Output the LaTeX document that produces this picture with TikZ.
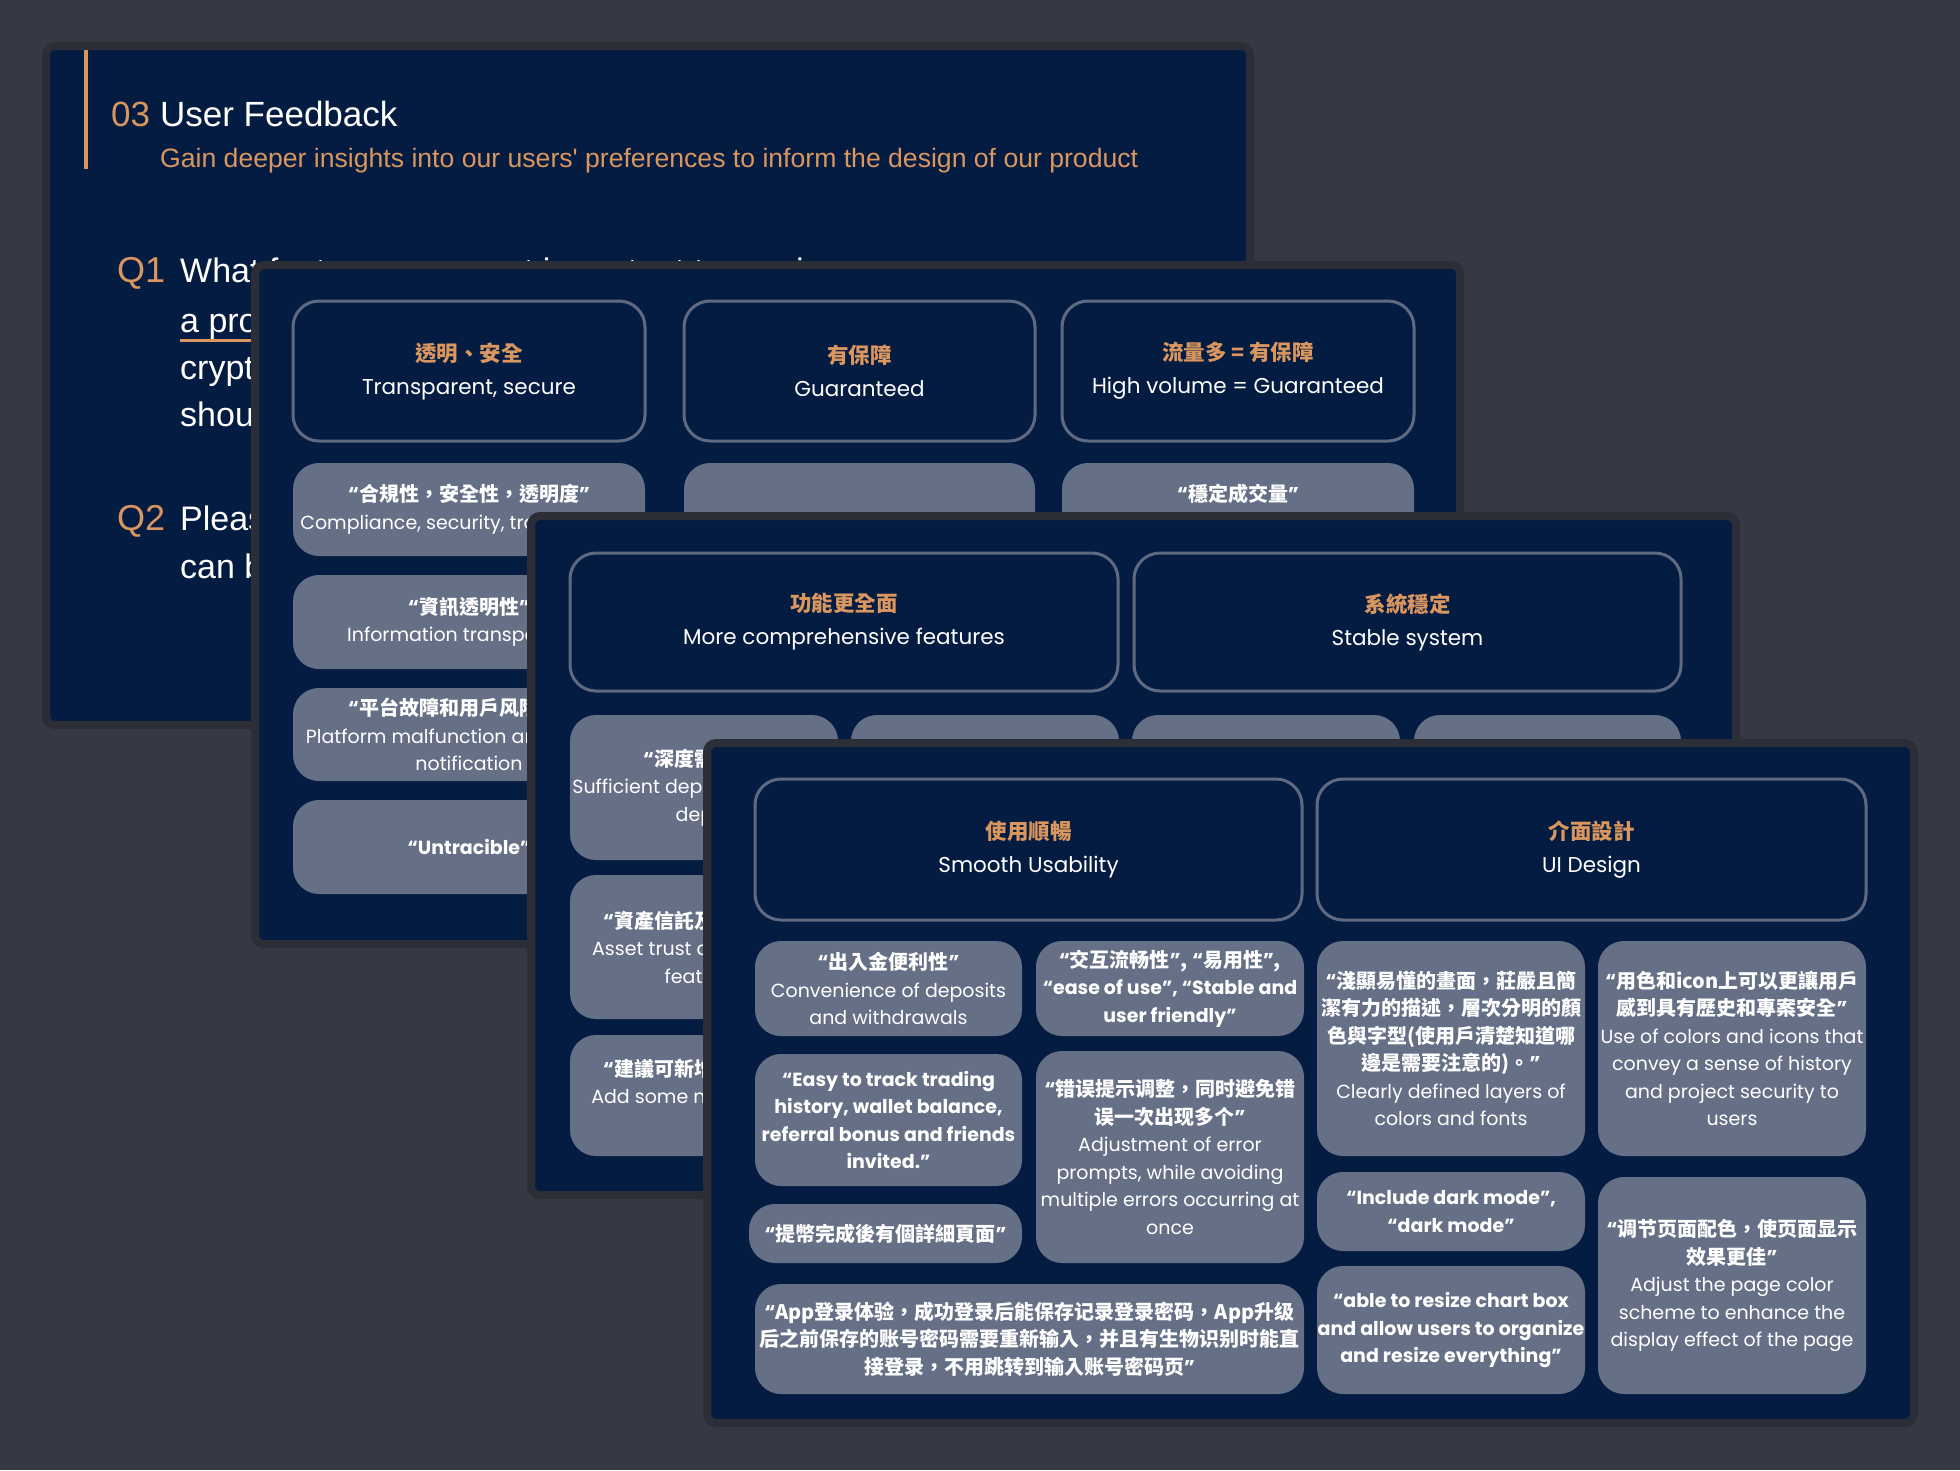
\documentclass[tikz,border=0pt]{standalone}
\usepackage{fontspec}
\setmainfont{Poppins}
\newfontfamily\cjk{Noto Sans CJK TC}
\newfontfamily\deck{Liberation Sans}

\definecolor{page}{HTML}{363943}
\definecolor{rim}{HTML}{2B2E36}
\definecolor{navy}{HTML}{041C41}
\definecolor{chip}{HTML}{657087}
\definecolor{frame}{HTML}{5F6A82}
\definecolor{accent}{HTML}{D9965F}

\newcommand\zh[1]{{\cjk\bfseries\fontsize{20}{27.5}\selectfont #1}}
\newcommand\hd[1]{{\cjk\bfseries\color{accent}#1}}
\newcommand\oq{{\normalfont\bfseries“}}
\newcommand\cq{{\normalfont\bfseries”}}

\tikzset{
  card/.style={draw=rim, line width=8, fill=navy, rounded corners=9},
  hbox/.style={draw=frame, line width=3, fill=navy, rounded corners=26, inner sep=0,
    align=center, text=white, font=\fontsize{21.5}{33}\selectfont},
  qbox/.style={fill=chip, rounded corners=26, inner sep=0, align=center, text=white,
    font=\fontsize{19}{27.5}\selectfont},
  qtext/.style={inner sep=0, align=center, text=white, font=\fontsize{19}{27.5}\selectfont},
  qline/.style={anchor=west, inner sep=0, text=white, text height=24, text depth=0,
    font=\deck\fontsize{34}{40}\selectfont},
  qlab/.style={qline, text=accent, font=\deck\fontsize{36}{40}\selectfont}
}

\begin{document}
\begin{tikzpicture}[x=1pt, y=-1pt]
  \fill[page] (0,0) rectangle (1960,1470);
  \useasboundingbox (0,0) rectangle (1960,1470);

  % slide 1
  \node[card, minimum width=1204, minimum height=679] (card1) at (648,385.5) {};
  \draw[accent, line width=3.5] (86,50) -- (86,169);
  \node[qline, font=\deck\fontsize{35}{40}\selectfont] (title) at (111,114)
       {\textcolor{accent}{03}\hspace{10pt}User Feedback};
  \node[anchor=west, inner sep=0, text=accent, text height=19, text depth=0,
        font=\deck\fontsize{26.6}{30}\selectfont] (sub) at (160,158)
       {Gain deeper insights into our users' preferences to inform the design of our product};

  \node[qlab] (q1) at (117,270) {Q1};
  \node[qline] (l11) at (180,270) {What features are most important to you in};
  \node[qline] (l12) at (180,320) {a product};
  \node[qline] (l13) at (180,367) {crypto};
  \node[qline] (l14) at (180,414) {should};
  \draw[accent, line width=3] (180,340) -- (330,340);

  \node[qlab] (q2) at (117,518) {Q2};
  \node[qline] (l21) at (180,518) {Please};
  \node[qline] (l22) at (180,566) {can be};

  % slide 2
  \node[card, minimum width=1205, minimum height=679] (card2) at (857.5,604.5) {};
  \node[hbox, minimum width=352, minimum height=140] (h21) at (469,371)
       {\hd{透明、安全}\\Transparent, secure};
  \node[hbox, minimum width=351, minimum height=140] (h22) at (859.5,371)
       {\hd{有保障}\\Guaranteed};
  \node[hbox, minimum width=352, minimum height=140] (h23) at (1238,371)
       {\hd{流量多 = 有保障}\\High volume = Guaranteed};

  \node[qbox, minimum width=352, minimum height=93] (q211) at (469,509.5)
       {\zh{\oq 合規性，安全性，透明度\cq}\\Compliance, security, transparency};
  \node[qbox, minimum width=352, minimum height=94] (q212) at (469,622)
       {\zh{\oq 資訊透明性\cq}\\Information transparency};
  \node[qbox, minimum width=352, minimum height=93] (q213) at (469,734.5)
       {\zh{\oq 平台故障和用戶风险通知\cq}\\Platform malfunction and user risk\\notification};
  \node[qbox, minimum width=352, minimum height=94] (q214) at (469,847)
       {\bfseries “Untracible”};
  \node[qbox, minimum width=351, minimum height=93] (q221) at (859.5,509.5) {};
  \node[qbox, minimum width=352, minimum height=93] (q231) at (1238,509.5)
       {\zh{\oq 穩定成交量\cq}\\Stable trading volume};

  % slide 3
  \node[card, minimum width=1205, minimum height=679] (card3) at (1133.5,855.5) {};
  \node[hbox, minimum width=548, minimum height=138] (h31) at (844,622)
       {\hd{功能更全面}\\More comprehensive features};
  \node[hbox, minimum width=547, minimum height=138] (h32) at (1407.5,622)
       {\hd{系統穩定}\\Stable system};

  \node[qbox, minimum width=268, minimum height=145] (q311) at (704,787.5)
       {\zh{\oq 深度需足夠\cq}\\Sufficient deposit and trade\\depth};
  \node[qbox, minimum width=268, minimum height=144] (q312) at (704,947)
       {\zh{\oq 資產信託及託管功能\cq}\\Asset trust and custody\\features};
  \node[qbox, minimum width=268, minimum height=121] (q313) at (704,1095.5) {};
  \node[qtext] (t313) at (704,1081.5)
       {\zh{\oq 建議可新增更多功能\cq}\\Add some new features};
  \node[qbox, minimum width=268, minimum height=145] (q321) at (985,787.5) {};
  \node[qbox, minimum width=268, minimum height=145] (q331) at (1266,787.5) {};
  \node[qbox, minimum width=267, minimum height=145] (q341) at (1547.5,787.5) {};

  % slide 4
  \node[card, minimum width=1207, minimum height=680] (card4) at (1310.5,1083) {};
  \node[hbox, minimum width=547, minimum height=141] (h41) at (1028.5,849.5)
       {\hd{使用順暢}\\Smooth Usability};
  \node[hbox, minimum width=549, minimum height=141] (h42) at (1591.5,849.5)
       {\hd{介面設計}\\UI Design};

  \node[qbox, minimum width=267, minimum height=95] (q411) at (888.5,988.5)
       {\zh{\oq 出入金便利性\cq}\\Convenience of deposits\\and withdrawals};
  \node[qbox, minimum width=267, minimum height=132, font=\bfseries\fontsize{19}{27.5}\selectfont]
       (q412) at (888.5,1120)
       {“Easy to track trading\\history, wallet balance,\\referral bonus and friends\\invited.”};
  \node[qbox, minimum width=273, minimum height=59] (q413) at (885.5,1233.5)
       {\zh{\oq 提幣完成後有個詳細頁面\cq}};
  \node[qbox, minimum width=549, minimum height=110] (q414) at (1029.5,1339)
       {\zh{\oq App登录体验，成功登录后能保存记录登录密码，App升级}\\
        \zh{后之前保存的账号密码需要重新输入，并且有生物识别时能直}\\
        \zh{接登录，不用跳转到输入账号密码页\cq}};

  \node[qbox, minimum width=268, minimum height=95] (q421) at (1170,988.5)
       {\zh{\oq 交互流畅性\cq, \oq 易用性\cq,}\\{\bfseries “ease of use”, “Stable and}\\{\bfseries user friendly”}};
  \node[qbox, minimum width=268, minimum height=212] (q422) at (1170,1157)
       {\zh{\oq 错误提示调整，同时避免错}\\\zh{误一次出现多个\cq}\\Adjustment of error\\prompts, while avoiding\\multiple errors occurring at\\once};

  \node[qbox, minimum width=268, minimum height=215] (q431) at (1451,1048.5)
       {\zh{\oq 淺顯易懂的畫面，莊嚴且簡}\\\zh{潔有力的描述，層次分明的顏}\\\zh{色與字型(使用戶清楚知道哪}\\\zh{邊是需要注意的)。\cq}\\Clearly defined layers of\\colors and fonts};
  \node[qbox, minimum width=268, minimum height=79, font=\bfseries\fontsize{19}{27.5}\selectfont]
       (q432) at (1451,1211.5)
       {“Include dark mode”,\\“dark mode”};
  \node[qbox, minimum width=268, minimum height=128, font=\bfseries\fontsize{19}{27.5}\selectfont]
       (q433) at (1451,1330)
       {“able to resize chart box\\and allow users to organize\\and resize everything”};

  \node[qbox, minimum width=268, minimum height=215] (q441) at (1732,1048.5)
       {\zh{\oq 用色和icon上可以更讓用戶}\\\zh{感到具有歷史和專案安全\cq}\\Use of colors and icons that\\convey a sense of history\\and project security to\\users};
  \node[qbox, minimum width=268, minimum height=217] (q442) at (1732,1285.5)
       {\zh{\oq 调节页面配色，使页面显示}\\\zh{效果更佳\cq}\\Adjust the page color\\scheme to enhance the\\display effect of the page};
\end{tikzpicture}
\end{document}
